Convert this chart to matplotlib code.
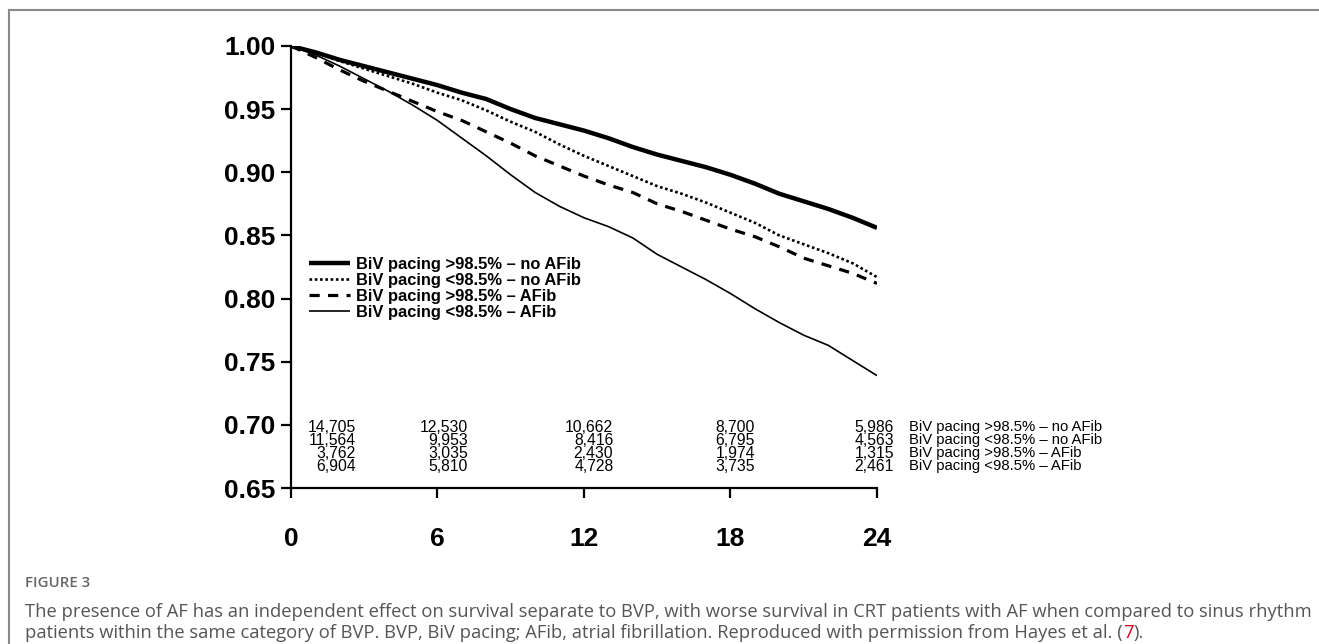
import matplotlib
matplotlib.use("Agg")
import matplotlib.pyplot as plt
from matplotlib.lines import Line2D
import numpy as np

# survival curves, read monthly (months 0..24)
months = np.arange(0, 25)
hi_noaf = [1.000, 0.995, 0.989, 0.984, 0.979, 0.974, 0.969, 0.963, 0.958, 0.950,
           0.943, 0.938, 0.933, 0.927, 0.920, 0.914, 0.909, 0.904, 0.898, 0.891,
           0.883, 0.877, 0.871, 0.864, 0.856]
lo_noaf = [1.000, 0.995, 0.988, 0.982, 0.976, 0.970, 0.963, 0.957, 0.949, 0.940,
           0.932, 0.922, 0.913, 0.905, 0.897, 0.889, 0.883, 0.876, 0.868, 0.860,
           0.850, 0.843, 0.836, 0.828, 0.817]
hi_af = [1.000, 0.991, 0.981, 0.972, 0.964, 0.956, 0.948, 0.941, 0.932, 0.923,
         0.913, 0.905, 0.897, 0.890, 0.884, 0.875, 0.869, 0.862, 0.855, 0.849,
         0.841, 0.832, 0.826, 0.820, 0.812]
lo_af = [1.000, 0.993, 0.984, 0.974, 0.964, 0.953, 0.941, 0.927, 0.913, 0.898,
         0.884, 0.873, 0.864, 0.857, 0.848, 0.835, 0.825, 0.815, 0.804, 0.792,
         0.781, 0.771, 0.763, 0.751, 0.739]

labels = ["BiV pacing >98.5% – no AFib", "BiV pacing <98.5% – no AFib",
          "BiV pacing >98.5% – AFib", "BiV pacing <98.5% – AFib"]

# numbers at risk
risk_months = [0, 6, 12, 18, 24]
at_risk = [
    ["14,705", "12,530", "10,662", "8,700", "5,986"],
    ["11,564", "9,953", "8,416", "6,795", "4,563"],
    ["3,762", "3,035", "2,430", "1,974", "1,315"],
    ["6,904", "5,810", "4,728", "3,735", "2,461"],
]
risk_x = [2.65, 7.25, 13.2, 19.0, 24.7]  # right edge of each column
risk_y = [0.6981, 0.6878, 0.6775, 0.6672]

yticks = [0.65, 0.70, 0.75, 0.80, 0.85, 0.90, 0.95, 1.00]

plt.rcParams['font.family'] = ['Liberation Sans', 'DejaVu Sans']

fig = plt.figure(figsize=(13.19, 6.44), dpi=100)
ax = fig.add_axes([0.2206, 0.2422, 0.4443, 0.6864])

styles = [
    dict(lw=3.2, ls='-'),
    dict(lw=1.9, ls=(0, (1, 1))),
    dict(lw=2.3, ls=(0, (3.2, 2.6))),
    dict(lw=1.2, ls='-'),
]
for ys, lab, st in zip([hi_noaf, lo_noaf, hi_af, lo_af], labels, styles):
    ax.plot(months, ys, color='black', label=lab, solid_capstyle='butt', **st)

ax.set_xlim(0, 24)
ax.set_ylim(0.65, 1.00)
ax.set_xticks(risk_months)
ax.set_yticks(yticks)
ax.set_yticklabels([f"{v:.2f}" for v in yticks])
ax.tick_params(axis='both', labelsize=19, width=1.6, length=7, color='black')
ax.tick_params(axis='x', pad=21)
ax.tick_params(axis='y', pad=4)
for lab in ax.get_xticklabels() + ax.get_yticklabels():
    lab.set_fontweight('bold')
for side in ['top', 'right']:
    ax.spines[side].set_visible(False)
for side in ['left', 'bottom']:
    ax.spines[side].set_linewidth(1.6)

leg = ax.legend(loc='upper left', bbox_to_anchor=(0.03, 0.522), frameon=False,
                prop={'weight': 'bold', 'size': 11.9}, handlelength=2.5,
                handletextpad=0.4, labelspacing=0.05, borderpad=0, borderaxespad=0)

# numbers-at-risk table inside the plot
for row, yv, lab in zip(at_risk, risk_y, labels):
    for txt, xv in zip(row, risk_x):
        ax.text(xv, yv, txt, ha='right', va='center', fontsize=11.3, clip_on=False)
    ax.text(25.3, yv, lab, ha='left', va='center', fontsize=10.7, clip_on=False)

# frame lines around the figure block
fig.add_artist(Line2D([9 / 1319, 1], [1 - 10 / 644, 1 - 10 / 644], color='#8a8a8a', lw=1.5))
fig.add_artist(Line2D([9 / 1319, 9 / 1319], [0, 1 - 10 / 644], color='#8a8a8a', lw=1.5))

cap_font = ['Open Sans', 'DejaVu Sans']
cap_size = 13.2
fig.text(25 / 1319, 1 - 583 / 644, "FIGURE 3", family=cap_font, fontsize=10.8,
         color='#666666', va='center', weight='semibold')
fig.text(25 / 1319, 1 - 612 / 644,
         "The presence of AF has an independent effect on survival separate to BVP, "
         "with worse survival in CRT patients with AF when compared to sinus rhythm",
         family=cap_font, fontsize=cap_size, color='#555555', va='center')
t1 = fig.text(25 / 1319, 1 - 633 / 644,
              "patients within the same category of BVP. BVP, BiV pacing; AFib, atrial "
              "fibrillation. Reproduced with permission from Hayes et al. (",
              family=cap_font, fontsize=cap_size, color='#555555', va='center')
t2 = plt.annotate("7", xy=(1, 0), xycoords=t1, va='bottom', ha='left',
                  family=cap_font, fontsize=cap_size, color='#d0021b')
plt.annotate(").", xy=(1, 0), xycoords=t2, va='bottom', ha='left',
             family=cap_font, fontsize=cap_size, color='#555555')

fig.savefig("out.png", dpi=100)
